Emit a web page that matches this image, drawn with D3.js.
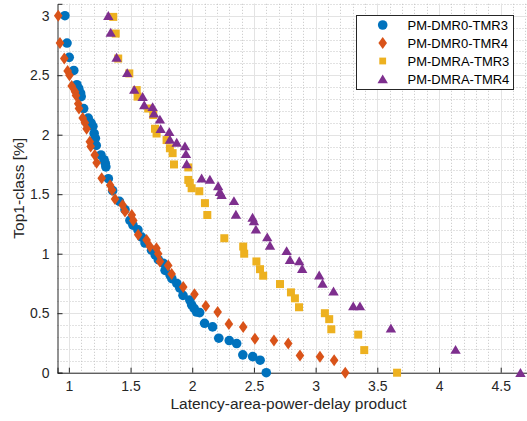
<!DOCTYPE html>
<html>
<head>
<meta charset="utf-8">
<script src="https://cdn.jsdelivr.net/npm/d3@7"></script>
<style>
body { margin: 0; background: #fff; }
svg { display: block; font-family: "Liberation Sans", Arial, Helvetica, sans-serif; }
</style>
</head>
<body>
<svg width="527" height="421"></svg>
<script>
var seriesNames = ['PM-DMR0-TMR3', 'PM-DMR0-TMR4', 'PM-DMRA-TMR3', 'PM-DMRA-TMR4'];

var dmr0Tmr3 = [
	[0.968, 3.00], [0.985, 2.77], [1.003, 2.65], [1.04, 2.54], [1.065, 2.42], [1.08, 2.39],
	[1.095, 2.35], [1.10, 2.32], [1.12, 2.22], [1.157, 2.14], [1.18, 2.10], [1.195, 2.07],
	[1.205, 2.01], [1.215, 1.97], [1.222, 1.91], [1.26, 1.83], [1.285, 1.79], [1.295, 1.76],
	[1.30, 1.73], [1.32, 1.63], [1.355, 1.53], [1.41, 1.44], [1.455, 1.37], [1.495, 1.28],
	[1.52, 1.24], [1.56, 1.20], [1.59, 1.14], [1.617, 1.09], [1.67, 1.03], [1.70, 0.99],
	[1.725, 0.95], [1.765, 0.92], [1.78, 0.86], [1.82, 0.82], [1.835, 0.79], [1.875, 0.75],
	[1.90, 0.71], [1.925, 0.65], [1.98, 0.61], [1.995, 0.57], [2.015, 0.54], [2.035, 0.51],
	[2.06, 0.505], [2.10, 0.415], [2.165, 0.385], [2.215, 0.29], [2.30, 0.27], [2.36, 0.245],
	[2.41, 0.15], [2.49, 0.135], [2.55, 0.105], [2.60, 0.0]
];

var dmr0Tmr4 = [
	[0.914, 3.00], [0.928, 2.77], [0.963, 2.64], [0.99, 2.535], [1.005, 2.50], [1.023, 2.41],
	[1.05, 2.36], [1.058, 2.33], [1.076, 2.26], [1.082, 2.22], [1.112, 2.14], [1.13, 2.10],
	[1.144, 2.05], [1.17, 1.94], [1.177, 1.90], [1.21, 1.83], [1.225, 1.765], [1.266, 1.635],
	[1.335, 1.575], [1.35, 1.535], [1.374, 1.46], [1.436, 1.41], [1.455, 1.355], [1.51, 1.325],
	[1.522, 1.28], [1.562, 1.16], [1.63, 1.115], [1.657, 1.06], [1.71, 1.045], [1.724, 1.00],
	[1.738, 0.935], [1.805, 0.90], [1.833, 0.83], [1.927, 0.72], [2.018, 0.66], [2.11, 0.56],
	[2.206, 0.51], [2.297, 0.41], [2.413, 0.385], [2.508, 0.285], [2.662, 0.27], [2.778, 0.245],
	[2.873, 0.145], [3.035, 0.135], [3.15, 0.105], [3.24, 0.0]
];

var dmraTmr3 = [
	[1.36, 2.99], [1.38, 2.85], [1.40, 2.64], [1.49, 2.515], [1.55, 2.375], [1.557, 2.32],
	[1.643, 2.22], [1.684, 2.165], [1.698, 2.05], [1.711, 2.01], [1.792, 1.955], [1.819, 1.886],
	[1.841, 1.845], [1.852, 1.75], [1.968, 1.725], [1.968, 1.62], [1.98, 1.595], [1.995, 1.55],
	[2.057, 1.525], [2.103, 1.425], [2.122, 1.325], [2.26, 1.13], [2.413, 1.06], [2.421, 1.00],
	[2.52, 0.935], [2.549, 0.87], [2.575, 0.815], [2.711, 0.745], [2.80, 0.675], [2.832, 0.625],
	[2.865, 0.55], [3.075, 0.50], [3.11, 0.45], [3.127, 0.365], [3.345, 0.32], [3.394, 0.19],
	[3.66, 0.0]
];

var dmraTmr4 = [
	[1.32, 3.00], [1.339, 2.86], [1.387, 2.65], [1.473, 2.52], [1.53, 2.38], [1.598, 2.32],
	[1.611, 2.25], [1.679, 2.235], [1.69, 2.18], [1.738, 2.13], [1.744, 2.05], [1.814, 2.025],
	[1.819, 1.96], [1.874, 1.935], [1.941, 1.905], [1.949, 1.84], [1.955, 1.755], [2.076, 1.635],
	[2.143, 1.625], [2.21, 1.57], [2.224, 1.52], [2.238, 1.495], [2.338, 1.445], [2.354, 1.33],
	[2.489, 1.305], [2.50, 1.275], [2.516, 1.205], [2.608, 1.14], [2.63, 1.07], [2.765, 1.025],
	[2.792, 0.95], [2.867, 0.94], [2.891, 0.875], [3.029, 0.82], [3.056, 0.75], [3.145, 0.685],
	[3.305, 0.56], [3.359, 0.56], [3.61, 0.375], [4.134, 0.195], [4.66, 0.0]
];

var xTicks = [1, 1.5, 2, 2.5, 3, 3.5, 4, 4.5];
var yTicks = [0, 0.5, 1, 1.5, 2, 2.5, 3];

var colors = ['#0072BD', '#D95319', '#EDB120', '#7E2F8E'];
var shapes = ['circle', 'diamond', 'square', 'triangle'];
var allSeries = [dmr0Tmr3, dmr0Tmr4, dmraTmr3, dmraTmr4];

var svg = d3.select('svg');
var plotLeft = 57.5, plotRight = 527, plotTop = 3.8, plotBottom = 372.7;

var x = d3.scaleLinear().domain([0.908, 4.713]).range([plotLeft, plotRight]);
var y = d3.scaleLinear().domain([0, 3.1]).range([plotBottom, plotTop]);

// minor grid, every 0.1
var xMinor = d3.range(10, 48).map(function(d){ return d / 10; }).filter(function(d){ return d <= 4.713; });
var yMinor = d3.range(0, 32).map(function(d){ return d / 10; });

function px(v) { return Math.round(v) + 0.5; }

svg.append('g').selectAll('line').data(xMinor).enter().append('line')
	.attr('x1', function(d){ return px(x(d)); })
	.attr('x2', function(d){ return px(x(d)); })
	.attr('y1', plotTop).attr('y2', plotBottom)
	.attr('stroke', '#c4c4c4').attr('stroke-width', 1).attr('stroke-dasharray', '1,2');

svg.append('g').selectAll('line').data(yMinor).enter().append('line')
	.attr('y1', function(d){ return px(y(d)); })
	.attr('y2', function(d){ return px(y(d)); })
	.attr('x1', plotLeft).attr('x2', plotRight)
	.attr('stroke', '#c4c4c4').attr('stroke-width', 1).attr('stroke-dasharray', '1,2');

// major grid
svg.append('g').selectAll('line').data(xTicks).enter().append('line')
	.attr('x1', function(d){ return px(x(d)); })
	.attr('x2', function(d){ return px(x(d)); })
	.attr('y1', plotTop).attr('y2', plotBottom)
	.attr('stroke', '#e3e3e3').attr('stroke-width', 1);

svg.append('g').selectAll('line').data(yTicks).enter().append('line')
	.attr('y1', function(d){ return px(y(d)); })
	.attr('y2', function(d){ return px(y(d)); })
	.attr('x1', plotLeft).attr('x2', plotRight)
	.attr('stroke', '#e3e3e3').attr('stroke-width', 1);

// axes, ticks point inward
var xAxis = d3.axisBottom(x).tickValues(xTicks).tickSize(-5).tickPadding(8).tickFormat(d3.format('~g'));
var yAxis = d3.axisLeft(y).tickValues(yTicks).tickSize(-5).tickPadding(8).tickFormat(d3.format('~g'));

var gx = svg.append('g').attr('transform', 'translate(0,' + plotBottom + ')').call(xAxis);
var gy = svg.append('g').attr('transform', 'translate(' + plotLeft + ',0)').call(yAxis);
[gx, gy].forEach(function(g){
	g.select('.domain').attr('stroke', '#262626');
	g.selectAll('.tick line').attr('stroke', '#262626');
	g.selectAll('.tick text').attr('fill', '#262626').style('font-size', '14px')
		.style('font-family', '"Liberation Sans", Arial, sans-serif');
});

function markerPath(shape) {
	if (shape == 'circle') {
		return d3.symbol().type(d3.symbolCircle).size(Math.PI * 4.8 * 4.8)();
	} else if (shape == 'diamond') {
		return 'M0,-6L4.3,0L0,6L-4.3,0Z';
	} else if (shape == 'square') {
		return 'M-4,-4L4,-4L4,4L-4,4Z';
	}
	return 'M0,-4.6L5.2,4.3L-5.2,4.3Z';
}

allSeries.forEach(function(data, i) {
	svg.append('g').selectAll('path').data(data).enter().append('path')
		.attr('d', markerPath(shapes[i]))
		.attr('transform', function(d){ return 'translate(' + x(d[0]) + ',' + y(d[1]) + ')'; })
		.attr('fill', colors[i]);
});

// legend
var legend = svg.append('g');
legend.append('rect')
	.attr('x', 356.5).attr('y', 15.5).attr('width', 157).attr('height', 74)
	.attr('fill', '#fff').attr('stroke', '#262626').attr('stroke-width', 1);
seriesNames.forEach(function(name, i) {
	var ly = 25 + i * 18;
	legend.append('path')
		.attr('d', markerPath(shapes[i]))
		.attr('transform', 'translate(382.7,' + ly + ')' + (i == 2 ? ' scale(0.85)' : ''))
		.attr('fill', colors[i]);
	legend.append('text')
		.attr('x', 407.5).attr('y', ly).attr('dy', '0.35em')
		.attr('fill', '#000').style('font-size', '13px')
		.text(name);
});

// axis labels
svg.append('text')
	.attr('x', 288.5).attr('y', 409)
	.attr('text-anchor', 'middle').attr('fill', '#262626').style('font-size', '15.5px')
	.text('Latency-area-power-delay product');

svg.append('text')
	.attr('transform', 'translate(24,' + ((plotTop + plotBottom) / 2) + ') rotate(-90)')
	.attr('text-anchor', 'middle').attr('fill', '#262626').style('font-size', '15.5px')
	.text('Top1-class [%]');
</script>
</body>
</html>
